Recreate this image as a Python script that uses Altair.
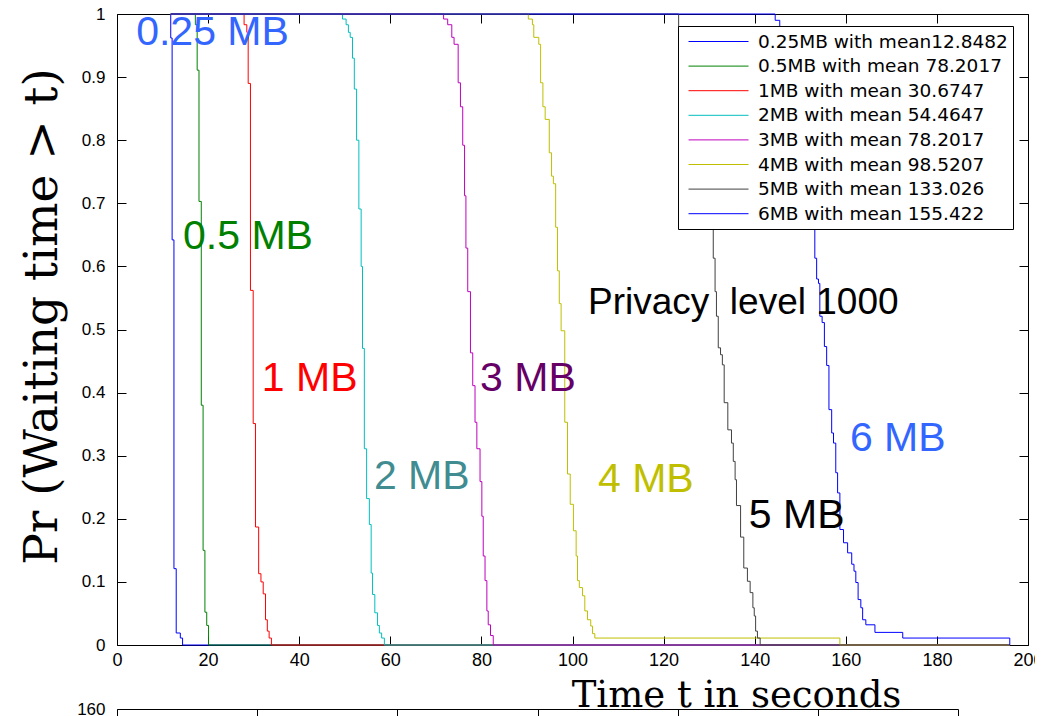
import altair as alt
import pandas as pd

W, H = 911, 631

# ---------------- data ----------------
legend_labels = [
    "0.25MB with mean12.8482",
    "0.5MB with mean 78.2017",
    "1MB with mean 30.6747",
    "2MB with mean 54.4647",
    "3MB with mean 78.2017",
    "4MB with mean 98.5207",
    "5MB with mean 133.026",
    "6MB with mean 155.422",
]
line_colors = ["#0000ff", "#008000", "#ff0000", "#00bfbf", "#bf00bf", "#bfbf00", "#404040", "#0000ff"]

t_025 = [11.8, 11.8, 12.1, 12.5, 13.0, 13.9, 14.4, 196.0]
p_025 = [1.0, 0.962, 0.642, 0.121, 0.019, 0.011, 0.0, 0.0]

t_05 = [11.8, 17.2, 17.6, 18.0, 18.5, 18.9, 19.3, 19.7, 20.1, 196.0]
p_05 = [1.0, 0.983, 0.911, 0.703, 0.380, 0.150, 0.052, 0.031, 0.0, 0.0]

t_1 = [11.8, 27.9, 28.5, 28.8, 29.3, 29.9, 30.4, 31.1, 31.6, 32.1, 32.6, 33.0, 33.4, 33.9, 196.0]
p_1 = [1.0, 0.983, 0.971, 0.890, 0.562, 0.351, 0.187, 0.113, 0.100, 0.081, 0.040, 0.022, 0.011, 0.0, 0.0]

t_2 = [11.8, 49.5, 50.3, 50.8, 51.2, 51.7, 52.1, 52.6, 53.1, 53.6, 53.9, 54.3, 54.8, 55.4,
       55.8, 56.1, 56.6, 57.2, 57.6, 58.1, 58.7, 196.0]
p_2 = [1.0, 0.992, 0.983, 0.971, 0.963, 0.930, 0.881, 0.800, 0.691, 0.600, 0.470, 0.311, 0.232, 0.191,
       0.114, 0.080, 0.051, 0.031, 0.019, 0.011, 0.0, 0.0]

t_3 = [11.8, 71.7, 72.6, 73.5, 74.0, 74.9, 75.4, 75.9, 76.3, 76.6, 77.0, 77.6, 78.1, 78.6, 79.0,
       79.7, 80.1, 80.4, 80.8, 81.2, 81.5, 82.0, 82.6, 196.0]
p_3 = [1.0, 0.992, 0.983, 0.963, 0.952, 0.891, 0.853, 0.792, 0.712, 0.629, 0.560, 0.463, 0.411, 0.353, 0.311,
       0.259, 0.204, 0.141, 0.102, 0.054, 0.032, 0.015, 0.0, 0.0]

t_4 = [11.8, 90.3, 91.2, 91.5, 92.6, 93.0, 93.5, 94.0, 94.9, 95.4, 95.8, 96.3, 96.7, 97.1, 97.5,
       98.3, 98.9, 99.5, 100.2, 100.8, 101.1, 101.5, 102.2, 102.7, 103.3, 104.0, 104.4, 104.9, 158.7, 196.0]
p_4 = [1.0, 0.992, 0.983, 0.963, 0.952, 0.891, 0.853, 0.833, 0.780, 0.743, 0.731, 0.662, 0.593, 0.541, 0.498,
       0.353, 0.271, 0.223, 0.181, 0.141, 0.102, 0.091, 0.078, 0.054, 0.040, 0.030, 0.018, 0.011, 0.0, 0.0]

t_5 = [11.8, 123.3, 125.5, 127.5, 129.2, 130.2, 130.9, 131.3, 131.6, 132.0, 132.5,
       132.9, 133.3, 134.1, 134.9, 135.3, 135.7, 136.0, 136.9, 137.6, 138.4, 139.0, 139.6, 139.9, 140.2,
       140.6, 141.2, 196.0]
p_5 = [1.0, 0.82, 0.79, 0.76, 0.73, 0.70, 0.613, 0.560, 0.521, 0.471, 0.460,
       0.444, 0.384, 0.341, 0.320, 0.291, 0.262, 0.221, 0.171, 0.122, 0.101, 0.083, 0.059, 0.046, 0.022,
       0.011, 0.0, 0.0]

t_6 = [11.8, 144.5, 145.5, 146.6, 147.7, 148.8, 149.9, 150.9, 151.8, 152.6, 153.2, 153.6, 154.0, 154.3,
       154.8, 155.3, 155.8, 156.3, 156.9, 157.3, 157.8, 158.2, 158.7, 159.5, 160.4, 161.3, 161.8, 162.2,
       162.7, 163.3, 163.7, 164.4, 166.4, 172.5, 196.0]
p_6 = [1.0, 0.99, 0.97, 0.94, 0.90, 0.85, 0.80, 0.76, 0.72, 0.69, 0.613, 0.580, 0.573, 0.521,
       0.511, 0.473, 0.443, 0.373, 0.336, 0.320, 0.273, 0.241, 0.183, 0.162, 0.146, 0.128, 0.117, 0.099,
       0.072, 0.059, 0.040, 0.032, 0.020, 0.011, 0.0]

series_t = [t_025, t_05, t_1, t_2, t_3, t_4, t_5, t_6]
series_p = [p_025, p_05, p_1, p_2, p_3, p_4, p_5, p_6]

x_ticks = [0, 20, 40, 60, 80, 100, 120, 140, 160, 180, 200]
y_ticks = [0, 0.1, 0.2, 0.3, 0.4, 0.5, 0.6, 0.7, 0.8, 0.9, 1.0]

ann_text = ["0.25 MB", "0.5 MB", "1 MB", "2 MB", "3 MB", "4 MB", "5 MB", "6 MB"]
ann_t = [4.2, 14.5, 31.8, 56.4, 79.7, 105.6, 138.7, 160.9]
ann_p = [0.951, 0.628, 0.402, 0.248, 0.402, 0.243, 0.185, 0.307]
ann_colors = ["#3366ff", "#008000", "#ff0000", "#408c91", "#660066", "#bfbf00", "#000000", "#3366ff"]

note_text = ["Privacy\u00a0\u00a0level 1000"]
note_t = [103.4]
note_p = [0.525]

frag_x_ticks = [0, 1, 2, 3, 4, 5, 6]
frag_y_ticks = [160]

# ---------------- tables ----------------
rows = []
for lab, ts, ps in zip(legend_labels, series_t, series_p):
    for i, (t, p) in enumerate(zip(ts, ps)):
        rows.append({"series": lab, "t": t, "p": p, "k": i})
df = pd.DataFrame(rows)

ann_df = pd.DataFrame({"text": ann_text, "t": ann_t, "p": ann_p})
note_df = pd.DataFrame({"text": note_text, "t": note_t, "p": note_p})
frag_df = pd.DataFrame({"fx": frag_x_ticks, "fy": [frag_y_ticks[0]] * len(frag_x_ticks)})

xs = alt.Scale(domain=[0, 200], nice=False, zero=False)
ys = alt.Scale(domain=[0, 1], nice=False, zero=False)

lines = alt.Chart(df).mark_line(interpolate="step-after", strokeWidth=1).encode(
    x=alt.X("t:Q", scale=xs, axis=alt.Axis(
        orient="bottom", values=x_ticks, ticks=False, tickSize=0, domain=False, grid=False,
        labelFlush=False, labelOverlap=False,
        labelFont="Liberation Sans", labelFontSize=18, labelPadding=6, labelColor="black",
        title="Time t in seconds", titleFont="DejaVu Serif", titleFontSize=37,
        titleFontWeight="normal", titleColor="black", titleX=619, titleY=61,
        titleAlign="center", titleBaseline="alphabetic")),
    y=alt.Y("p:Q", scale=ys, axis=alt.Axis(
        orient="left", values=y_ticks, format=".1~f", ticks=False, tickSize=0, domain=False, grid=False,
        labelFlush=False, labelOverlap=False,
        labelFont="Liberation Sans", labelFontSize=17, labelPadding=12, labelColor="black",
        title="Pr (Waiting time > t)", titleFont="DejaVu Serif", titleFontSize=47,
        titleFontWeight="normal", titleColor="black", titleX=-61, titleY=302,
        titleAlign="center", titleBaseline="alphabetic")),
    color=alt.Color("series:N", scale=alt.Scale(domain=legend_labels, range=line_colors),
                    legend=alt.Legend(
                        title=None, orient="none", legendX=561, legendY=12,
                        symbolType="M-0.5,0H5.5", symbolSize=400, symbolStrokeWidth=1,
                        labelFont="DejaVu Sans", labelFontSize=18.5, labelColor="black",
                        labelOffset=54, labelLimit=400, rowPadding=4.6, padding=5,
                        strokeColor="black", fillColor="white")),
    order=alt.Order("k:Q"),
)

ticks_in_a = alt.Chart(df).mark_point(opacity=0).encode(
    x=alt.X("t:Q", scale=xs, axis=alt.Axis(
        orient="top", offset=-H, values=x_ticks, labels=False, domain=False, grid=False,
        ticks=True, tickSize=9, tickColor="black", title=None)),
    y=alt.Y("p:Q", scale=ys, axis=alt.Axis(
        orient="right", offset=-W, values=y_ticks, labels=False, domain=False, grid=False,
        ticks=True, tickSize=9, tickColor="black", title=None)),
)

ticks_in_b = alt.Chart(df).mark_point(opacity=0).encode(
    x=alt.X("t:Q", scale=xs, axis=alt.Axis(
        orient="bottom", offset=-H, values=x_ticks, labels=False, domain=False, grid=False,
        ticks=True, tickSize=9, tickColor="black", title=None)),
    y=alt.Y("p:Q", scale=ys, axis=alt.Axis(
        orient="left", offset=-W, values=y_ticks, labels=False, domain=False, grid=False,
        ticks=True, tickSize=9, tickColor="black", title=None)),
)

ann = alt.Chart(ann_df).mark_text(
    align="left", baseline="alphabetic", font="Liberation Sans", fontSize=41
).encode(
    x=alt.X("t:Q", scale=xs, axis=None),
    y=alt.Y("p:Q", scale=ys, axis=None),
    text="text:N",
    color=alt.Color("text:N", scale=alt.Scale(domain=ann_text, range=ann_colors), legend=None),
)

note = alt.Chart(note_df).mark_text(
    align="left", baseline="alphabetic", font="Liberation Sans", fontSize=37, color="black"
).encode(
    x=alt.X("t:Q", scale=xs, axis=None),
    y=alt.Y("p:Q", scale=ys, axis=None),
    text="text:N",
)

frag = alt.Chart(frag_df).mark_point(opacity=0).encode(
    x=alt.X("fx:Q", scale=alt.Scale(domain=[0, 6], range=[0, 841], nice=False, zero=False),
            axis=alt.Axis(orient="bottom", offset=64, values=frag_x_ticks, labels=False,
                          domain=True, domainColor="black", ticks=True, tickSize=8,
                          tickColor="black", grid=False, title=None)),
    y=alt.Y("fy:Q", scale=alt.Scale(domain=[0, 160], range=[H + 364, H + 64], nice=False),
            axis=alt.Axis(orient="left", values=frag_y_ticks, labels=True, ticks=False, tickSize=0,
                          domain=True, domainColor="black", grid=False, title=None,
                          labelFont="Liberation Sans", labelFontSize=17, labelPadding=12,
                          labelColor="black")),
)

chart = alt.layer(lines, ticks_in_a, ticks_in_b, ann, note, frag).resolve_scale(
    x="independent", y="independent", color="independent"
).resolve_axis(
    x="independent", y="independent"
).properties(
    width=W, height=H,
    autosize=alt.AutoSizeParams(type="none"),
    padding={"left": 109, "top": 6, "right": 7, "bottom": 72},
    background="white",
).configure_view(stroke="black", strokeWidth=1)

chart.save("out.html", embed_options={"renderer": "svg", "actions": False})
